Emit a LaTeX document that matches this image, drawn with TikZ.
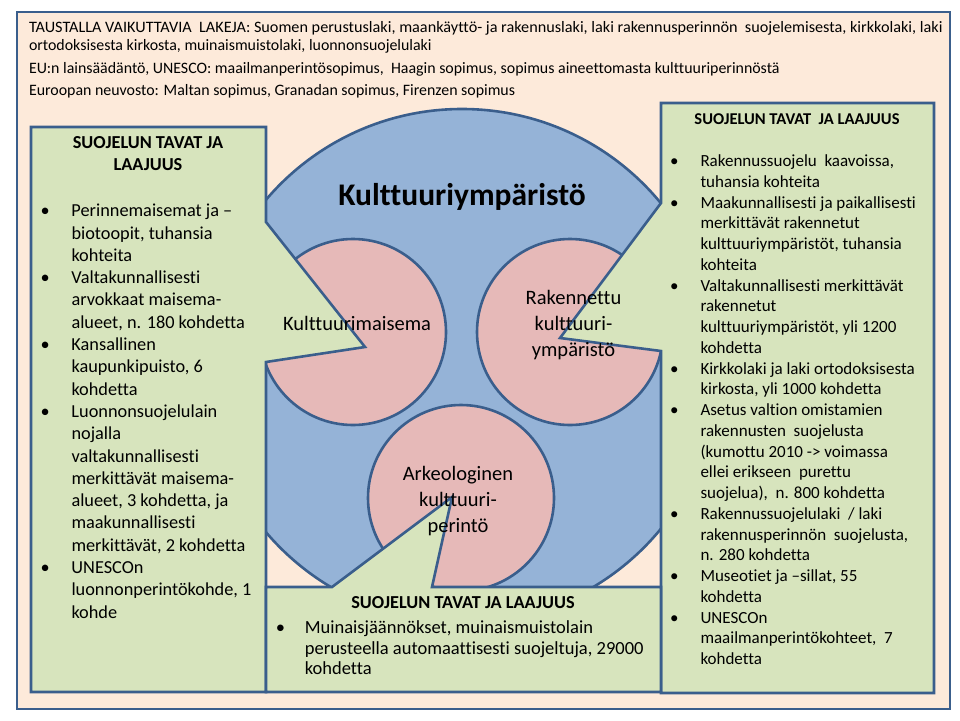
\documentclass[tikz,border=0pt]{standalone}
\usepackage{fontspec}
\setmainfont{Carlito}[Ligatures={NoCommon}]
\usepackage{array}
\definecolor{peach}{HTML}{FDEADA}
\definecolor{boxgreen}{HTML}{D7E4BD}
\definecolor{cblue}{HTML}{95B3D7}
\definecolor{cpink}{HTML}{E6B9B8}
\definecolor{edge}{HTML}{3A5E8C}
\tikzset{
  outline/.style={draw=edge, line width=2.6pt, line join=miter},
  frame/.style={outline, fill=peach},
  bigdisc/.style={outline, fill=cblue},
  pinkdisc/.style={outline, fill=cpink},
  callout/.style={outline, fill=boxgreen},
  txt/.style={inner sep=0pt, outer sep=0pt, text=black},
}
\newcommand{\lawfont}{\fontsize{15.9}{18}\selectfont}
\newcommand{\bigbox}{\fontsize{18.3}{22.3}\selectfont}
\newcommand{\smallbox}{\fontsize{17}{20.75}\selectfont}
\newcommand{\botbox}{\fontsize{18.5}{20.8}\selectfont}
\newcommand{\discfont}{\fontsize{20.5}{26}\selectfont}
\begin{document}
\begin{tikzpicture}[x=1pt,y=-1pt]
\useasboundingbox (0,0) rectangle (960,720);
\fill[white] (0,0) rectangle (960,720);
% outer frame
\draw[frame] (17,12) rectangle (950,709);
% big circle
\draw[bigdisc] (462,366) circle[radius=257];
% pink discs
\draw[pinkdisc] (353,332) circle[radius=93];
\draw[pinkdisc] (570,332) circle[radius=93];
\draw[pinkdisc] (461,498) circle[radius=93];
% callouts
\draw[callout] (31,127) -- (266,127) -- (266,222) -- (365,347) -- (266,362) -- (266,692) -- (31,692) -- cycle;
\draw[callout] (661,103) -- (934,103) -- (934,693) -- (661,693) -- (661,351) -- (560,338) -- (661,203) -- cycle;
\draw[callout] (266,587) -- (332,587) -- (452,497) -- (432,587) -- (661,587) -- (661,692) -- (266,692) -- cycle;

% laws text
\node[txt, anchor=base west] (law1) at (29,32.3) {\lawfont\scalebox{1.02}[1]{TAUSTALLA VAIKUTTAVIA\ \ LAKEJA: Suomen perustuslaki, maankäyttö- ja rakennuslaki, laki rakennusperinnön\ \ suojelemisesta, kirkkolaki, laki}};
\node[txt, anchor=base west] (law2) at (29,50.5) {\lawfont ortodoksisesta kirkosta, muinaismuistolaki, luonnonsuojelulaki};
\node[txt, anchor=base west] (law3) at (29,73.5) {\lawfont EU:n lainsäädäntö, UNESCO: maailmanperintösopimus,\ \ Haagin sopimus, sopimus aineettomasta kulttuuriperinnöstä};
\node[txt, anchor=base west] (law4) at (29,95.5) {\lawfont Euroopan neuvosto: Maltan sopimus, Granadan sopimus, Firenzen sopimus};

% central title
\node[txt, anchor=base] (title) at (462,205) {\fontsize{31.5}{36}\selectfont\bfseries Kulttuuriympäristö};

% disc labels
\node[txt, anchor=base] (maisema) at (357,330) {\discfont Kulttuurimaisema};
\node[txt, anchor=north] (rakennettu) at (573.5,285.8) {\discfont\begin{tabular}{@{}c@{}}Rakennettu\\kulttuuri-\\ympäristö\end{tabular}};
\node[txt, anchor=north] (arkeo) at (458,461.8) {\discfont\begin{tabular}{@{}c@{}}Arkeologinen\\kulttuuri-\\perintö\end{tabular}};

% left box
\node[txt, anchor=base] (lt1) at (148,148.3) {\bigbox\bfseries SUOJELUN TAVAT JA};
\node[txt, anchor=base] (lt2) at (148,170.3) {\bigbox\bfseries LAAJUUS};
\node[txt, anchor=north west] (llist) at (40.5,201.1) {\bigbox\begin{tabular}{@{}p{31pt}@{}l@{}}
\textbullet & Perinnemaisemat ja –\\
 & biotoopit, tuhansia\\
 & kohteita\\
\textbullet & Valtakunnallisesti\\
 & arvokkaat maisema-\\
 & alueet, n. 180 kohdetta\\
\textbullet & Kansallinen\\
 & kaupunkipuisto, 6\\
 & kohdetta\\
\textbullet & Luonnonsuojelulain\\
 & nojalla\\
 & valtakunnallisesti\\
 & merkittävät maisema-\\
 & alueet, 3 kohdetta, ja\\
 & maakunnallisesti\\
 & merkittävät, 2 kohdetta\\
\textbullet & UNESCOn\\
 & luonnonperintökohde, 1\\
 & kohde
\end{tabular}};

% right box
\node[txt, anchor=base] (rt) at (797,124.5) {\fontsize{16.5}{20}\selectfont\bfseries SUOJELUN TAVAT\ \ JA LAAJUUS};
\node[txt, anchor=north west] (rlist) at (670,152.2) {\smallbox\begin{tabular}{@{}p{30.5pt}@{}l@{}}
\textbullet & Rakennussuojelu\ \ kaavoissa,\\
 & tuhansia kohteita\\
\textbullet & Maakunnallisesti ja paikallisesti\\
 & merkittävät rakennetut\\
 & kulttuuriympäristöt, tuhansia\\
 & kohteita\\
\textbullet & Valtakunnallisesti merkittävät\\
 & rakennetut\\
 & kulttuuriympäristöt, yli 1200\\
 & kohdetta\\
\textbullet & Kirkkolaki ja laki ortodoksisesta\\
 & kirkosta, yli 1000 kohdetta\\
\textbullet & Asetus valtion omistamien\\
 & rakennusten\ \ suojelusta\\
 & (kumottu 2010 -> voimassa\\
 & ellei erikseen\ \ purettu\\
 & suojelua),\ \ n. 800 kohdetta\\
\textbullet & Rakennussuojelulaki\ \ / laki\\
 & rakennusperinnön\ \ suojelusta,\\
 & n. 280 kohdetta\\
\textbullet & Museotiet ja –sillat, 55\\
 & kohdetta\\
\textbullet & UNESCOn\\
 & maailmanperintökohteet,\ \ 7\\
 & kohdetta
\end{tabular}};

% bottom box
\node[txt, anchor=base] (bt) at (463,608.3) {\fontsize{18.3}{22}\selectfont\bfseries SUOJELUN TAVAT JA LAAJUUS};
\node[txt, anchor=north west] (blist) at (275.9,618.7) {\botbox\begin{tabular}{@{}p{29pt}@{}l@{}}
\textbullet & Muinaisjäännökset, muinaismuistolain\\
 & perusteella automaattisesti suojeltuja, 29000\\
 & kohdetta
\end{tabular}};
\end{tikzpicture}
\end{document}
